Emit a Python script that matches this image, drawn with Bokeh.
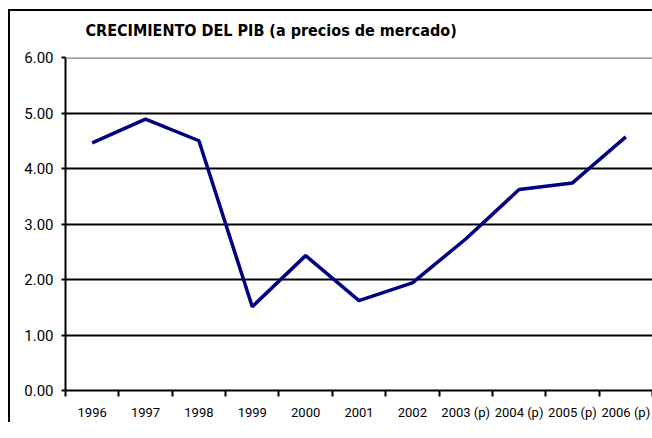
from bokeh.plotting import figure
from bokeh.models import Range1d, FixedTicker, NumeralTickFormatter, Span
from bokeh.embed import file_html
from bokeh.resources import INLINE

years = ["1996", "1997", "1998", "1999", "2000", "2001", "2002",
         "2003 (p)", "2004 (p)", "2005 (p)", "2006 (p)"]
growth = [4.46, 4.89, 4.50, 1.51, 2.43, 1.62, 1.94, 2.73, 3.62, 3.74, 4.57]
y_ticks = [0, 1, 2, 3, 4, 5, 6]
title_text = "CRECIMIENTO DEL PIB  (a precios de mercado)"

TFONT = "DejaVu Sans Condensed"
FONT = "Roboto"

xs = list(range(len(years)))

p = figure(width=652, height=422, output_backend="svg", toolbar_location=None,
           x_range=Range1d(-0.5, 10.5), y_range=Range1d(0, 6),
           min_border_left=65, min_border_right=0, min_border_top=57,
           min_border_bottom=31)

# chart-area border (left and top edges visible in the picture)
p.styles = {
    "background-color": "white",
    "background-image": "linear-gradient(to right, #000 2px, transparent 2px), "
                        "linear-gradient(to bottom, #000 2px, transparent 2px)",
    "background-size": "100% 100%",
    "background-position": "8px 9px, 8px 9px",
    "background-repeat": "no-repeat",
}

p.title.text = title_text
p.title.align = "left"
p.title.offset = 20
p.title.standoff = 36
p.title.text_font = TFONT
p.title.text_font_size = "16px"
p.title.text_font_style = "bold"
p.title.text_color = "black"

p.outline_line_color = None
p.background_fill_color = "white"
p.border_fill_color = None

xa = p.xaxis[0]
xa.ticker = FixedTicker(ticks=xs, minor_ticks=[i + 0.5 for i in range(-1, len(years))])
xa.major_label_overrides = {i: years[i] for i in xs}
xa.major_tick_line_color = None
xa.major_tick_out = 0
xa.major_tick_in = 0
xa.minor_tick_line_color = "black"
xa.minor_tick_line_width = 2
xa.minor_tick_out = 6
xa.minor_tick_in = 0
xa.axis_line_color = "black"
xa.axis_line_width = 2
xa.major_label_text_font = FONT
xa.major_label_text_font_size = "13px"
xa.major_label_text_color = "black"
xa.major_label_standoff = 8

ya = p.yaxis[0]
ya.ticker = FixedTicker(ticks=y_ticks)
ya.formatter = NumeralTickFormatter(format="0.00")
ya.minor_tick_line_color = None
ya.major_tick_line_color = "black"
ya.major_tick_line_width = 2
ya.major_tick_out = 4
ya.major_tick_in = 0
ya.axis_line_color = "black"
ya.axis_line_width = 2
ya.major_label_text_font = FONT
ya.major_label_text_font_size = "15px"
ya.major_label_text_color = "black"
ya.major_label_standoff = 8

p.xgrid.grid_line_color = None
p.ygrid.ticker = FixedTicker(ticks=y_ticks[1:-1])
p.ygrid.grid_line_color = "black"
p.ygrid.grid_line_width = 2

top = Span(location=y_ticks[-1], dimension="width", line_color="#808080", line_width=2.5)
p.add_layout(top)

p.line(xs, growth, line_color="#000080", line_width=3.5)

open("out.html", "w").write(file_html(p, INLINE))
